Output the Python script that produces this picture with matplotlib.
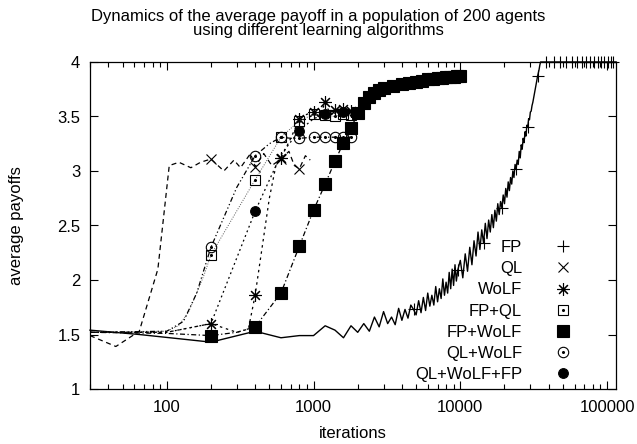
import numpy as np
import matplotlib
matplotlib.use("Agg")
import matplotlib.pyplot as plt
from matplotlib.ticker import LogLocator, NullFormatter

plt.rcParams['font.family'] = ['Liberation Sans', 'DejaVu Sans']

# ---- data ----
# FP: sampled every 200 iterations early, every 400 later, then flat at 4
fp_x = ([30, 65, 200, 400, 600, 800, 1000, 1200, 1400, 1600, 1800]
        + list(range(2000, 9601, 200))
        + list(range(10000, 35201, 400))
        + [38400, 43200, 48000, 52800, 57600, 62400, 67200, 72000, 76800,
           81600, 86400, 91200, 96000, 100800, 105600, 110400, 115000])
fp_y = ([1.54, 1.50, 1.43, 1.53, 1.47, 1.49, 1.49, 1.58, 1.54, 1.47, 1.58]
        + [1.52, 1.60, 1.53, 1.66, 1.57, 1.71, 1.60, 1.66, 1.59, 1.74,
           1.63, 1.73, 1.65, 1.77, 1.73, 1.68, 1.81, 1.70, 1.84, 1.72,
           1.88, 1.76, 1.86, 1.77, 1.94, 1.80, 1.92, 1.83, 2.01, 1.86,
           1.98, 1.88, 2.07, 1.92, 2.10, 1.95, 2.14, 1.99, 2.09]
        + [2.18, 2.02, 2.24, 2.08, 2.30, 2.14, 2.36, 2.22, 2.44, 2.28,
           2.46, 2.34, 2.52, 2.38, 2.55, 2.44, 2.60, 2.48, 2.64, 2.54,
           2.70, 2.60, 2.72, 2.66, 2.78, 2.70, 2.84, 2.76, 2.90, 2.82,
           2.94, 2.88, 3.00, 2.94, 3.06, 3.02, 3.10, 3.06, 3.18, 3.12,
           3.24, 3.20, 3.30, 3.26, 3.36, 3.32, 3.42, 3.40, 3.48, 3.47,
           3.54, 3.55, 3.60, 3.63, 3.67, 3.71, 3.75, 3.79, 3.83, 3.87,
           3.90, 3.93, 3.97, 4.00]
        + [4.00] * 17)

ql_x = [30, 45, 65, 87, 104, 121, 146, 170, 200, 245, 287, 318, 372, 400,
        458, 520, 600, 680, 740, 800, 880, 950]
ql_y = [1.49, 1.39, 1.53, 2.10, 3.05, 3.08, 3.03, 3.08, 3.11, 3.00, 3.10,
        3.03, 3.16, 3.04, 3.16, 3.05, 3.11, 3.18, 3.05, 3.02, 3.14, 3.10]

wolf_x = [30, 100, 200, 300, 360, 400, 500, 560, 600, 700, 800, 900, 1000,
          1100, 1200, 1300, 1400, 1500, 1600, 1700, 1800]
wolf_y = [1.52, 1.52, 1.60, 1.52, 1.55, 1.86, 2.75, 3.08, 3.12, 3.30, 3.48,
          3.52, 3.54, 3.50, 3.63, 3.52, 3.56, 3.50, 3.57, 3.52, 3.55]

fpql_x = [30, 100, 120, 140, 160, 180, 200, 400, 600, 800, 1000, 1200,
          1400, 1600, 1800]
fpql_y = [1.52, 1.53, 1.58, 1.70, 1.88, 2.05, 2.23, 2.92, 3.31, 3.46, 3.52,
          3.51, 3.50, 3.52, 3.51]

fpwolf_x = [30, 100, 200, 300, 400, 600, 800, 1000, 1200, 1400, 1600, 1800,
            2000, 2200, 2400, 2600, 2800, 3000, 3500, 4000, 4500, 5000, 5500,
            6000, 6500, 7000, 7500, 8000, 8500, 9000, 9500, 10000]
fpwolf_y = [1.52, 1.51, 1.49, 1.52, 1.57, 1.88, 2.31, 2.64, 2.88, 3.09, 3.26,
            3.39, 3.53, 3.62, 3.68, 3.72, 3.74, 3.76, 3.78, 3.80, 3.81, 3.82,
            3.83, 3.84, 3.84, 3.85, 3.85, 3.86, 3.86, 3.86, 3.87, 3.87]

qlwolf_x = [30, 100, 130, 160, 200, 300, 400, 500, 600, 700, 800, 1000,
            1200, 1400, 1600, 1800]
qlwolf_y = [1.52, 1.53, 1.62, 1.88, 2.30, 2.85, 3.14, 3.25, 3.31, 3.30, 3.30,
            3.31, 3.31, 3.31, 3.31, 3.31]

all_x = [30, 100, 200, 400, 600, 800, 1000, 1200, 1400, 1600, 1800, 2000]
all_y = [1.52, 1.52, 1.60, 2.63, 3.15, 3.37, 3.48, 3.52, 3.53, 3.54, 3.54, 3.55]

labels = ['FP', 'QL', 'WoLF', 'FP+QL', 'FP+WoLF', 'QL+WoLF', 'QL+WoLF+FP']

# which iterations carry a point symbol
fp_marks = [v for v in fp_x if v % 4800 == 0]
ql_marks = [200, 400, 600, 800]
wolf_marks = [200, 400, 600, 800, 1000, 1200, 1400, 1600, 1800]
fpql_marks = [200, 400, 600, 800, 1000, 1200, 1400, 1600, 1800]
fpwolf_marks = [v for v in fpwolf_x if v >= 200 and v != 300]
qlwolf_marks = [200, 400, 600, 800, 1000, 1200, 1400, 1600, 1800]
all_marks = [400, 800, 1200, 1600]

FS = 12

fig = plt.figure(figsize=(6.37, 4.44), dpi=100)
ax = fig.add_axes([90 / 637, 1 - 389 / 444, 526 / 637, 327 / 444])


def draw(x, y, marks, ls, marker, ms, filled=False, dot=False, lw=0.9,
         color='k', clip=True):
    x = np.array(x, dtype=float)
    y = np.array(y, dtype=float)
    ax.plot(x, y, color=color, ls=ls, lw=lw, clip_on=clip)
    m = np.isin(x, marks)
    h = ax.plot(x[m], y[m], ls='none', marker=marker, ms=ms, clip_on=clip,
                mfc='k' if filled else 'none', mec='k', mew=0.8)[0]
    if dot:
        d = ax.plot(x[m], y[m], ls='none', marker='o', ms=1.2, color='k')[0]
        return (h, d)
    return h


handles = []
handles.append(draw(fp_x, fp_y, fp_marks, '-', '+', 8, lw=1.0, clip=False))
handles.append(draw(ql_x, ql_y, ql_marks, (0, (4, 3)), 'x', 7))
handles.append(draw(wolf_x, wolf_y, wolf_marks, (0, (2, 3)), (8, 2, 0), 9))
handles.append(draw(fpql_x, fpql_y, fpql_marks, (0, (1, 1.5)), 's', 7,
                    dot=True, lw=0.7, color='0.35'))
handles.append(draw(fpwolf_x, fpwolf_y, fpwolf_marks, (0, (4, 2, 1, 2)), 's', 8.5,
                    filled=True))
handles.append(draw(qlwolf_x, qlwolf_y, qlwolf_marks, (0, (4, 2, 1, 2, 1, 2)), 'o', 7.5,
                    dot=True))
handles.append(draw(all_x, all_y, all_marks, (0, (1.5, 2.5)), 'o', 7, filled=True))

ax.set_xscale('log')
ax.set_xlim(30, 115000)
ax.set_ylim(1, 4)
ax.set_xticks([100, 1000, 10000, 100000])
ax.set_xticklabels(['100', '1000', '10000', '100000'])
ax.xaxis.set_minor_locator(LogLocator(base=10, subs=np.arange(2, 10)))
ax.xaxis.set_minor_formatter(NullFormatter())
ax.set_yticks([1, 1.5, 2, 2.5, 3, 3.5, 4])
ax.set_yticklabels(['1', '1.5', '2', '2.5', '3', '3.5', '4'])
ax.tick_params(which='both', direction='in', top=True, right=True, labelsize=FS)
ax.tick_params(which='major', length=6, width=0.8)
ax.tick_params(which='minor', length=3.5, width=0.8)
ax.tick_params(axis='y', pad=7)
ax.tick_params(axis='x', pad=8)
for s in ax.spines.values():
    s.set_linewidth(0.9)

ax.set_xlabel('iterations', fontsize=FS)
ax.set_ylabel('average payoffs', fontsize=FS)
ax.xaxis.set_label_coords(0.5, -0.112)
ax.yaxis.set_label_coords(-0.125, 0.5)

fig.text(0.5, 1 - 9 / 444,
         'Dynamics of the average payoff in a population of 200 agents\n'
         'using different learning algorithms',
         ha='center', va='top', fontsize=FS, linespacing=0.95)

ax.legend(handles, labels, loc='lower right', bbox_to_anchor=(0.931, 0.021),
          frameon=False, markerfirst=False, handlelength=2.0, handletextpad=1.45,
          fontsize=FS, labelspacing=0.37, borderpad=0, borderaxespad=0)

fig.savefig('out.png', dpi=100)
